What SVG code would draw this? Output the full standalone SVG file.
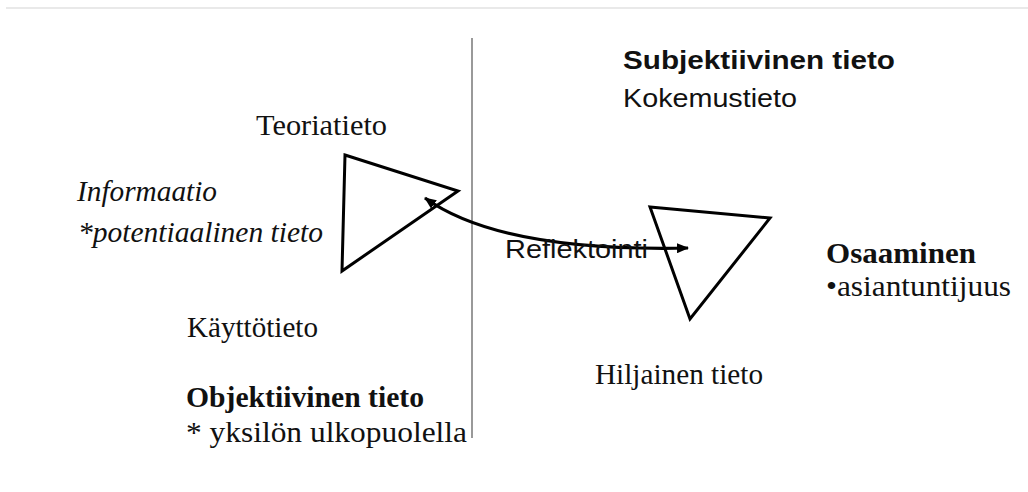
<svg xmlns="http://www.w3.org/2000/svg" width="1028" height="492" viewBox="0 0 1028 492">
<style>
.serif{font-family:"Liberation Serif","Times New Roman",serif;font-size:30px;fill:#111}
.sans{font-family:"Liberation Sans",Arial,sans-serif;fill:#111}
.b{font-weight:bold}
.i{font-style:italic}
.tri{fill:none;stroke:#000;stroke-width:3;stroke-linejoin:miter}
</style>
<defs>
<marker id="ah" viewBox="0 0 12 10" refX="11" refY="5" markerWidth="12" markerHeight="10" markerUnits="userSpaceOnUse" orient="auto-start-reverse">
<path d="M0,0 L12,5 L0,10 Z" fill="#000"/>
</marker>
</defs>
<rect width="1028" height="492" fill="#fff"/>
<line x1="6" y1="8" x2="1028" y2="8" stroke="#e2e2e2" stroke-width="1.5"/>
<line x1="472" y1="38" x2="472" y2="438" stroke="#777" stroke-width="1.5"/>
<g id="triangle-left"><polygon class="tri" points="345,155 458,191 342,271"/></g>
<g id="triangle-right"><polygon class="tri" points="650,207 770,218 690,319"/></g>
<g id="connectors">
<path d="M425,198 Q500,252 688,248" fill="none" stroke="#000" stroke-width="3.2" marker-start="url(#ah)" marker-end="url(#ah)"/>
</g>
<g id="teoriatieto"><text class="serif" x="256" y="135" textLength="131" lengthAdjust="spacingAndGlyphs">Teoriatieto</text></g>
<g id="informaatio">
<text class="serif i" x="77" y="201" textLength="140" lengthAdjust="spacingAndGlyphs">Informaatio</text>
<text class="serif i" x="78" y="242" textLength="245" lengthAdjust="spacingAndGlyphs">*potentiaalinen tieto</text>
</g>
<g id="kayttotieto"><text class="serif" x="187" y="337" textLength="131" lengthAdjust="spacingAndGlyphs">Käyttötieto</text></g>
<g id="objektiivinen">
<text class="serif b" x="186" y="407" textLength="238" lengthAdjust="spacingAndGlyphs">Objektiivinen tieto</text>
<text class="serif" x="186" y="442" textLength="281" lengthAdjust="spacingAndGlyphs">* yksilön ulkopuolella</text>
</g>
<g id="subjektiivinen">
<text class="sans b" x="623" y="69" font-size="25" textLength="272" lengthAdjust="spacingAndGlyphs">Subjektiivinen tieto</text>
<text class="sans" x="623" y="107" font-size="25" textLength="174" lengthAdjust="spacingAndGlyphs">Kokemustieto</text>
</g>
<g id="reflektointi"><text class="sans" x="505" y="258" font-size="25" textLength="143" lengthAdjust="spacingAndGlyphs">Reflektointi</text></g>
<g id="osaaminen">
<text class="serif b" x="826" y="263" textLength="150" lengthAdjust="spacingAndGlyphs">Osaaminen</text>
<text class="serif" x="826" y="296" textLength="185" lengthAdjust="spacingAndGlyphs">•asiantuntijuus</text>
</g>
<g id="hiljainen"><text class="serif" x="595" y="384" textLength="168" lengthAdjust="spacingAndGlyphs">Hiljainen tieto</text></g>
</svg>
